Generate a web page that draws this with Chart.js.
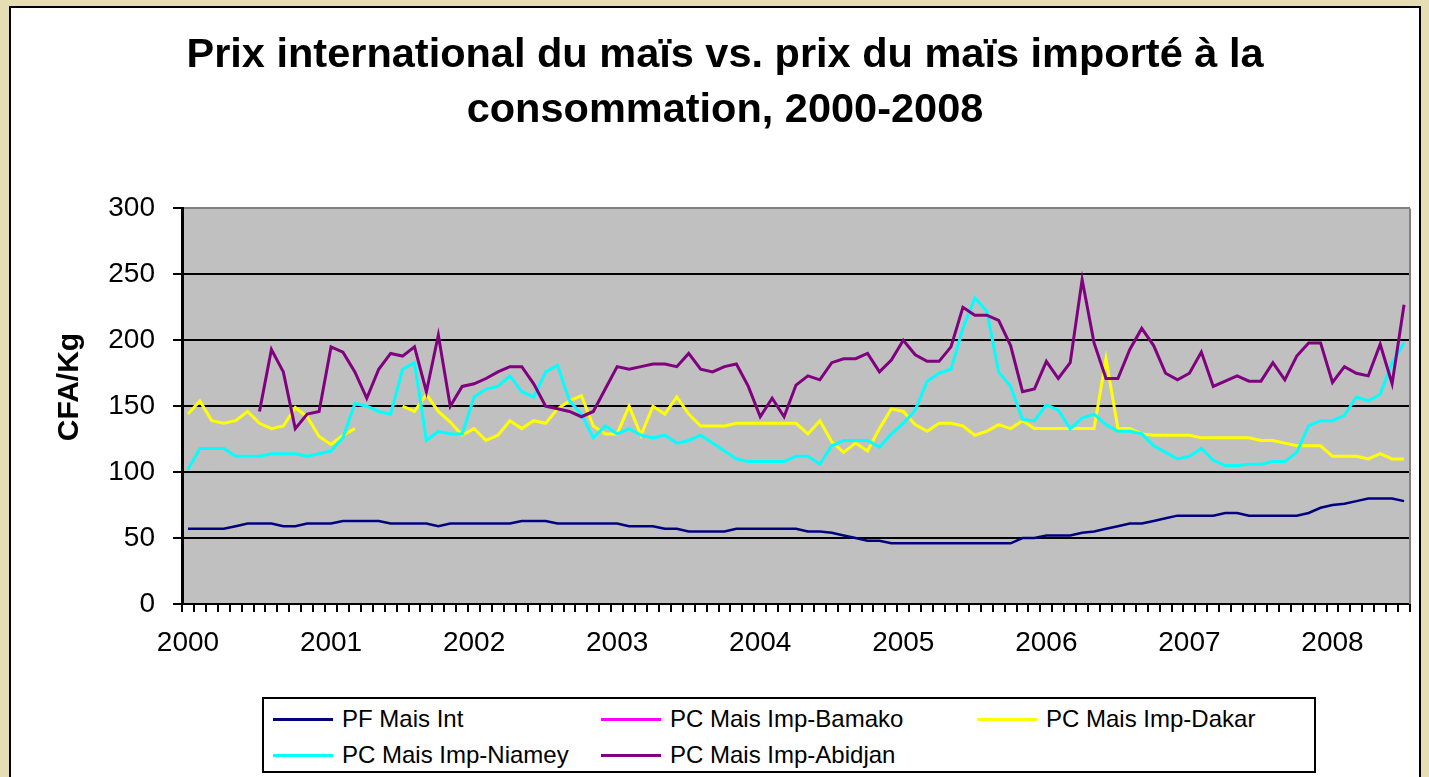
<!DOCTYPE html>
<html>
<head>
<meta charset="utf-8">
<script src="https://cdn.jsdelivr.net/npm/chart.js@4.4.1/dist/chart.umd.min.js"></script>
<style>
  body { margin: 0; width: 1429px; height: 777px; overflow: hidden; background: #e6ddb4;
         font-family: "Liberation Sans", Arial, sans-serif; }
  #frame { position: absolute; left: 9px; top: 6px; width: 1412px; height: 800px;
           box-sizing: border-box; background: #fff; border: 2px solid #000; }
  #chartBox { position: absolute; left: 11px; top: 8px; width: 1408px; height: 680px; }
  #legend { position: absolute; left: 262px; top: 697px; width: 1054px; height: 76px;
            box-sizing: border-box; border: 2px solid #000; background: #fff;
            padding: 2px 0 0 9px; display: grid; grid-template-columns: 328px 376px auto;
            grid-auto-rows: 36px; font-size: 24px; color: #000; }
  #legend .item { display: flex; align-items: center; white-space: nowrap; }
  #legend .swatch { width: 60px; height: 3px; margin-right: 9px; }
</style>
</head>
<body>
<div id="frame"></div>
<div id="chartBox"><canvas id="maisChart"></canvas></div>
<div id="legend"></div>
<script>
// categories: monthly, Jan 2000 - Jul 2008
const years = ['2000', '2001', '2002', '2003', '2004', '2005', '2006', '2007', '2008'];
const monthNums = ['01', '02', '03', '04', '05', '06', '07', '08', '09', '10', '11', '12'];
const months = years.flatMap(y => monthNums.map(m => y + '-' + m)).slice(0, 103);

// CFA/Kg, one row per year
const pfMaisInt = [
  57, 57, 57, 57, 59, 61, 61, 61, 59, 59, 61, 61,
  61, 63, 63, 63, 63, 61, 61, 61, 61, 59, 61, 61,
  61, 61, 61, 61, 63, 63, 63, 61, 61, 61, 61, 61,
  61, 59, 59, 59, 57, 57, 55, 55, 55, 55, 57, 57,
  57, 57, 57, 57, 55, 55, 54, 52, 50, 48, 48, 46,
  46, 46, 46, 46, 46, 46, 46, 46, 46, 46, 50, 50,
  52, 52, 52, 54, 55, 57, 59, 61, 61, 63, 65, 67,
  67, 67, 67, 69, 69, 67, 67, 67, 67, 67, 69, 73,
  75, 76, 78, 80, 80, 80, 78
];
const pcBamako = [];
const pcDakar = [
  144, 154, 139, 137, 139, 146, 137, 133, 135, 149, 142, 127,
  121, 128, 133, null, null, null, 150, 146, 159, 146, 138, 128,
  133, 124, 128, 139, 133, 139, 137, 148, 154, 158, 135, 129,
  129, 150, 128, 150, 144, 157, 144, 135, 135, 135, 137, 137,
  137, 137, 137, 137, 129, 139, 123, 115, 122, 116, 133, 148,
  146, 136, 131, 137, 137, 135, 128, 131, 136, 133, 139, 133,
  133, 133, 133, 133, 133, 186, 133, 133, 129, 128, 128, 128,
  128, 126, 126, 126, 126, 126, 124, 124, 122, 120, 120, 120,
  112, 112, 112, 110, 114, 110, 110
];
const pcNiamey = [
  102, 118, 118, 118, 112, 112, 112, 114, 114, 114, 112, 114,
  116, 126, 152, 150, 146, 144, 178, 183, 124, 131, 129, 129,
  157, 163, 165, 173, 161, 157, 176, 181, 154, 144, 126, 135,
  129, 133, 128, 126, 128, 122, 124, 128, 122, 116, 110, 108,
  108, 108, 108, 112, 112, 106, 120, 124, 124, 124, 119, 129,
  137, 147, 169, 175, 178, 209, 232, 222, 176, 165, 140, 139,
  151, 147, 133, 141, 144, 136, 131, 131, 129, 120, 115, 110,
  112, 118, 109, 105, 105, 106, 106, 108, 108, 115, 135, 139,
  139, 143, 157, 154, 159, 183, 198
];
const pcAbidjan = [
  null, null, null, null, null, null, 146, 193, 176, 133, 144, 146,
  195, 191, 176, 156, 178, 190, 188, 195, 161, 204, 150, 165,
  167, 171, 176, 180, 180, 167, 150, 148, 146, 142, 146, 163,
  180, 178, 180, 182, 182, 180, 190, 178, 176, 180, 182, 165,
  142, 156, 142, 166, 173, 170, 183, 186, 186, 190, 176, 185,
  200, 189, 184, 184, 195, 225, 219, 219, 215, 196, 161, 163,
  184, 171, 183, 246, 198, 171, 171, 193, 209, 196, 175, 170,
  175, 191, 165, 169, 173, 169, 169, 183, 170, 188, 198, 198,
  168, 180, 175, 173, 197, 167, 227
];

const seriesNames = ['PF Mais Int', 'PC Mais Imp-Bamako', 'PC Mais Imp-Dakar',
                     'PC Mais Imp-Niamey', 'PC Mais Imp-Abidjan'];
const seriesColors = ['#000080', '#ff00ff', '#ffff00', '#00ffff', '#800080'];
const seriesData = [pfMaisInt, pcBamako, pcDakar, pcNiamey, pcAbidjan];
const yAxisTitle = 'CFA/Kg';

const FONT = '"Liberation Sans", Arial, sans-serif';

// grey plot area, grey right edge and the rotated axis title, like excel
const plotFrame = {
  id: 'plotFrame',
  beforeDraw(chart) {
    const {ctx, chartArea: a} = chart;
    ctx.save();
    ctx.fillStyle = '#c0c0c0';
    ctx.fillRect(a.left, a.top, a.right - a.left, a.bottom - a.top);
    ctx.restore();
  },
  beforeDatasetsDraw(chart) {
    const {ctx, chartArea: a} = chart;
    ctx.save();
    ctx.strokeStyle = '#808080';
    ctx.lineWidth = 2;
    ctx.beginPath();
    ctx.moveTo(a.right, a.top);
    ctx.lineTo(a.right, a.bottom);
    ctx.stroke();
    ctx.restore();
  },
  afterDraw(chart) {
    const {ctx} = chart;
    ctx.save();
    ctx.translate(59, 379);
    ctx.rotate(-Math.PI / 2);
    ctx.font = 'bold 30px ' + FONT;
    ctx.fillStyle = '#000';
    ctx.textAlign = 'center';
    ctx.textBaseline = 'middle';
    ctx.fillText(yAxisTitle, 0, 0);
    ctx.restore();
  }
};

const chart = new Chart(document.getElementById('maisChart'), {
  type: 'line',
  data: {
    labels: months,
    datasets: seriesNames.map((name, i) => ({
      label: name,
      data: seriesData[i],
      borderColor: seriesColors[i],
      backgroundColor: seriesColors[i],
      borderWidth: i === 0 ? 2.5 : 3,
      pointRadius: 0,
      tension: 0,
      spanGaps: false,
      order: seriesNames.length - i // later series on top
    }))
  },
  options: {
    responsive: true,
    maintainAspectRatio: false,
    animation: false,
    layout: {padding: {left: 29, right: 9, top: 0, bottom: 0}},
    plugins: {
      legend: {display: false},
      tooltip: {enabled: false},
      title: {
        display: true,
        text: ['Prix international du maïs vs. prix du maïs importé à la',
               'consommation, 2000-2008'],
        color: '#000',
        font: {family: FONT, size: 41.5, weight: 'bold', lineHeight: 1.33},
        padding: {top: 20, bottom: 70}
      }
    },
    scales: {
      x: {
        offset: true,
        grid: {display: true, drawOnChartArea: false, offset: true, color: '#000',
               lineWidth: 2, tickLength: 8},
        border: {display: true, color: '#000', width: 2},
        ticks: {
          autoSkip: false, maxRotation: 0, color: '#000', padding: 14,
          font: {family: FONT, size: 28},
          callback(v) {
            const l = this.getLabelForValue(v);
            return l.endsWith('-01') ? l.slice(0, 4) : '';
          }
        },
        afterFit(scale) { scale.height = 84; }
      },
      y: {
        min: 0, max: 300,
        grid: {
          color: ctx => (ctx.tick && ctx.tick.value === 300) ? '#808080' : '#000',
          lineWidth: 2, tickLength: 9, tickColor: '#000'
        },
        border: {display: true, color: '#000', width: 3},
        ticks: {stepSize: 50, color: '#000', padding: 18, font: {family: FONT, size: 28}},
        afterFit(scale) { scale.width = 142; }
      }
    }
  },
  plugins: [plotFrame]
});

// legend box built from the chart's datasets
const legendEl = document.getElementById('legend');
chart.data.datasets.forEach(ds => {
  const item = document.createElement('div');
  item.className = 'item';
  const sw = document.createElement('span');
  sw.className = 'swatch';
  sw.style.background = ds.borderColor;
  const txt = document.createElement('span');
  txt.textContent = ds.label;
  item.appendChild(sw);
  item.appendChild(txt);
  legendEl.appendChild(item);
});
</script>
</body>
</html>
